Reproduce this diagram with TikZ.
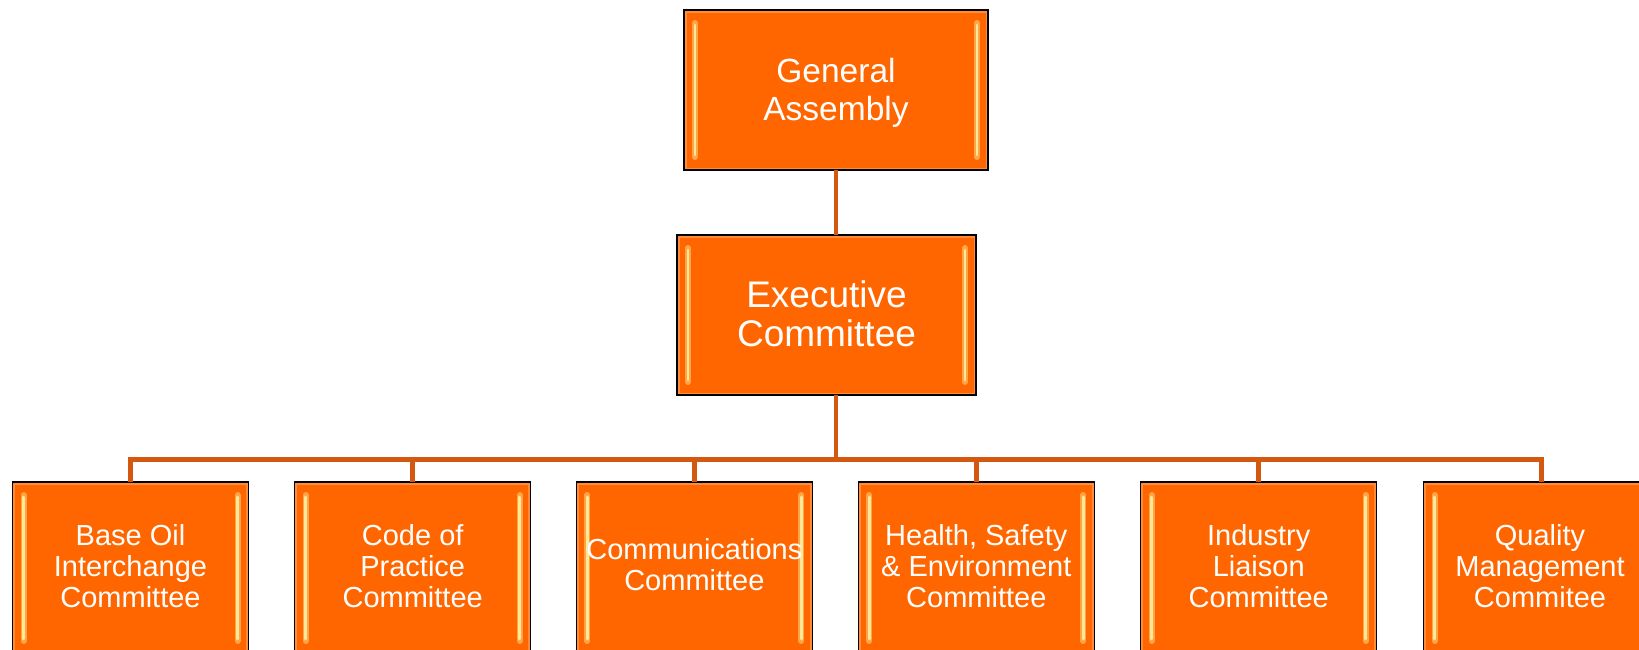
\documentclass[tikz,border=0pt]{standalone}
\usepackage{fontspec}
\setmainfont{Liberation Sans}
\definecolor{tileor}{RGB}{255,102,0}
\definecolor{rimor}{RGB}{255,140,60}
\definecolor{glowor}{RGB}{255,165,70}
\definecolor{hlyel}{RGB}{255,232,155}
\definecolor{connor}{RGB}{212,88,16}
\tikzset{
  tile/.style={rectangle, draw=black, line width=1.2pt, fill=tileor,
    inner sep=0pt, outer sep=0pt,
    path picture={
      \draw[rimor, line width=5pt] (path picture bounding box.south west) rectangle (path picture bounding box.north east);
      \foreach \s/\a/\b in {11/north west/south west, -11/north east/south east}{
        \draw[glowor, line width=6pt, line cap=round]
          ([xshift=\s pt, yshift=-13pt]path picture bounding box.\a) -- ([xshift=\s pt, yshift=13pt]path picture bounding box.\b);
        \draw[hlyel, line width=2.8pt, line cap=round]
          ([xshift=\s pt, yshift=-15pt]path picture bounding box.\a) -- ([xshift=\s pt, yshift=15pt]path picture bounding box.\b);
      }
    }},
  topbox/.style={tile, minimum width=304pt, minimum height=160pt},
  execbox/.style={tile, minimum width=299pt, minimum height=160pt},
  combox/.style={tile, minimum width=236pt, minimum height=172pt},
  gatext/.style={text=white, align=center, inner sep=0pt, font=\fontsize{33.5}{37.5}\selectfont},
  ectext/.style={text=white, align=center, inner sep=0pt, font=\fontsize{37}{38.7}\selectfont},
  cmtext/.style={text=white, align=center, inner sep=0pt, font=\fontsize{29}{31}\selectfont},
  conn/.style={draw=connor, line width=4.6pt, line join=miter}
}
\begin{document}
\begin{tikzpicture}[x=1pt, y=-1pt]
\useasboundingbox (0,0) rectangle (1639,649);
\clip (0,0) rectangle (1639,649);
\fill[white] (0,0) rectangle (1639,649);

% boxes
\node[topbox] (ga) at (836,90) {};
\node[execbox] (ec) at (826.5,315) {};
\node[combox] (b1) at (130.5,568) {};
\node[combox] (b2) at (412.7,568) {};
\node[combox] (b3) at (694.4,568) {};
\node[combox] (b4) at (976.3,568) {};
\node[combox] (b5) at (1258.7,568) {};
\node[combox] (b6) at (1541.6,568) {};

% connectors
\coordinate (jn) at (836,459.5);
\draw[conn] (ga.south) -- (ga.south |- ec.north);
\draw[conn] (ga.south |- ec.south) -- (jn);
\draw[conn] (b1.north) -- (b1.north |- jn) -- (b6.north |- jn) -- (b6.north);
\foreach \i in {2,...,5}{
  \draw[conn] (b\i.north |- jn) -- (b\i.north);
}

% texts
\node[gatext] (gat) at (836,92.6) {General\\Assembly};
\node[ectext] (ect) at (826.5,313.8) {Executive\\Committee};
\node[cmtext] (t1) at (130.5,566) {Base Oil\\Interchange\\Committee};
\node[cmtext] (t2) at (412.7,566) {Code of\\Practice\\Committee};
\node[cmtext] (t3) at (694.4,565) {Communications\\Committee};
\node[cmtext] (t4) at (976.3,566) {Health, Safety\\\& Environment\\Committee};
\node[cmtext] (t5) at (1258.7,566) {Industry\\Liaison\\Committee};
\node[cmtext] (t6) at (1540,566) {Quality\\Management\\Commitee};
\end{tikzpicture}
\end{document}
